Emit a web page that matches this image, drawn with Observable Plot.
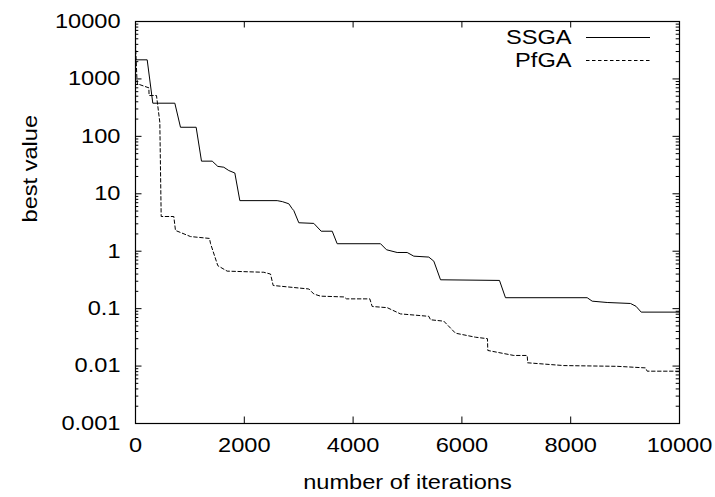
<!DOCTYPE html>
<html><head><meta charset="utf-8">
<script src="https://cdn.jsdelivr.net/npm/d3@7"></script>
<script src="https://cdn.jsdelivr.net/npm/@observablehq/plot@0.6"></script>
<style>body{margin:0;background:#fff}</style>
</head><body><div id="chart"></div>
<script>
const seriesNames = ["SSGA", "PfGA"];
const ssgaIter  = [0, 215, 318, 723, 827, 1115, 1213, 1410, 1513, 1623, 1715, 1826, 1918, 2604, 2700, 2818, 2880, 2910, 3002, 3278, 3413, 3616, 3707, 4504, 4614, 4810, 4994, 5116, 5392, 5484, 5607, 6691, 6801, 8303, 8395, 8671, 9099, 9200, 9296, 10000];
const ssgaValue = [2150, 2150, 378, 378, 144, 144, 37, 37, 30, 29, 25.4, 23, 7.6, 7.6, 7.3, 6.7, 5.5, 5.1, 3.13, 3.05, 2.23, 2.23, 1.35, 1.35, 1.06, 0.95, 0.95, 0.82, 0.79, 0.67, 0.318, 0.31, 0.155, 0.155, 0.135, 0.128, 0.123, 0.11, 0.087, 0.087];
const pfgaIter  = [0, 25, 35, 245, 250, 386, 447, 472, 704, 735, 1011, 1360, 1380, 1513, 1685, 2358, 2482, 2531, 3186, 3278, 3401, 3829, 3880, 4307, 4351, 4627, 4871, 5392, 5423, 5667, 5882, 6250, 6470, 6476, 6954, 7200, 7210, 7873, 8855, 9375, 9406, 10000];
const pfgaValue = [4000, 1075, 822, 700, 514, 514, 176, 4.02, 4.02, 2.3, 1.8, 1.67, 1.35, 0.56, 0.45, 0.43, 0.4, 0.253, 0.22, 0.18, 0.165, 0.16, 0.148, 0.148, 0.109, 0.104, 0.081, 0.0735, 0.064, 0.0605, 0.0374, 0.0318, 0.030, 0.0187, 0.0153, 0.0153, 0.0114, 0.0102, 0.0099, 0.0093, 0.00815, 0.00815];
const xTicks = [0, 2000, 4000, 6000, 8000, 10000];
const yTicks = [0.001, 0.01, 0.1, 1, 10, 100, 1000, 10000];
const xLabel = "number of iterations";
const yLabel = "best value";

const W = 715, H = 497, mL = 135, mR = 36, mT = 21, mB = 74;
const plotW = W - mL - mR, plotH = H - mT - mB;
const majorLen = 6.5, minorLen = 3.3;

const ssga = ssgaIter.map((x, i) => ({x, y: ssgaValue[i]}));
const pfga = pfgaIter.map((x, i) => ({x, y: pfgaValue[i]}));
const yMinor = yTicks.slice(0, -1).flatMap(d => [2,3,4,5,6,7,8,9].map(k => k * d));
const dashes = [null, "3.5,2.5"];

const legendMarks = seriesNames.flatMap((name, i) => [
  Plot.text([name], {frameAnchor: "top-right", textAnchor: "end", lineAnchor: "middle", dx: -108, dy: 16.5 + i * 23, text: d => d, fontSize: 20})
]);
const legendLines = (index, scales, values, dims) => {
  const g = d3.create("svg:g").attr("fill", "none").attr("stroke", "black").attr("stroke-width", 1);
  seriesNames.forEach((name, i) => {
    const y = dims.marginTop + 16.5 + i * 23;
    const l = g.append("line")
      .attr("x1", dims.width - dims.marginRight - 93)
      .attr("x2", dims.width - dims.marginRight - 29)
      .attr("y1", y).attr("y2", y);
    if (dashes[i]) l.attr("stroke-dasharray", dashes[i]);
  });
  return g.node();
};

const chart = Plot.plot({
  width: W, height: H,
  marginLeft: mL, marginRight: mR, marginTop: mT, marginBottom: mB,
  style: {fontFamily: "'Liberation Sans', Arial, sans-serif", fontSize: "20px", background: "#fff", color: "black"},
  x: {domain: [0, 10000], axis: null},
  y: {type: "log", domain: [0.001, 10000], axis: null},
  marks: [
    Plot.tickX(xTicks, {x: d => d, insetTop: plotH - majorLen, stroke: "black"}),
    Plot.tickX(xTicks, {x: d => d, insetBottom: plotH - majorLen, stroke: "black"}),
    Plot.tickY(yTicks, {y: d => d, insetRight: plotW - majorLen, stroke: "black"}),
    Plot.tickY(yTicks, {y: d => d, insetLeft: plotW - majorLen, stroke: "black"}),
    Plot.tickY(yMinor, {y: d => d, insetRight: plotW - minorLen, stroke: "black"}),
    Plot.tickY(yMinor, {y: d => d, insetLeft: plotW - minorLen, stroke: "black"}),
    Plot.text(xTicks, {x: d => d, frameAnchor: "bottom", lineAnchor: "top", dy: 14, text: d => String(d), fontSize: 20}),
    Plot.text(yTicks, {y: d => d, frameAnchor: "left", textAnchor: "end", lineAnchor: "middle", dx: -15, text: d => String(d), fontSize: 20}),
    Plot.text([xLabel], {frameAnchor: "bottom", lineAnchor: "bottom", dy: 65, text: d => d, fontSize: 20}),
    Plot.text([yLabel], {frameAnchor: "left", rotate: -90, lineAnchor: "bottom", dx: -99, text: d => d, fontSize: 20}),
    Plot.line(ssga, {x: "x", y: "y", stroke: "black", strokeWidth: 1}),
    Plot.line(pfga, {x: "x", y: "y", stroke: "black", strokeWidth: 1, strokeDasharray: dashes[1]}),
    ...legendMarks,
    legendLines,
    Plot.frame({stroke: "black", strokeWidth: 1.2})
  ]
});
document.getElementById("chart").append(chart);
chart.querySelectorAll("text").forEach(t => {
  const L = t.getComputedTextLength();
  if (L > 0) {
    t.setAttribute("textLength", (L * 1.18).toFixed(1));
    t.setAttribute("lengthAdjust", "spacingAndGlyphs");
  }
});
</script>
</body></html>
